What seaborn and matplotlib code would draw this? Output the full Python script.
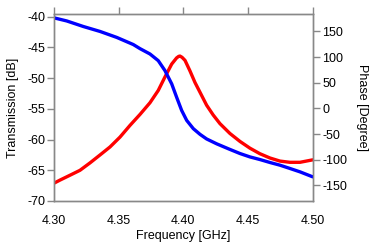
import matplotlib
matplotlib.use("Agg")
from matplotlib import pyplot as plt
import seaborn as sns
import pandas as pd

# transmission (red, left axis)
freq_t = [4.3000, 4.3046, 4.3124, 4.3201, 4.3278, 4.3356, 4.3433, 4.3510, 4.3587,
          4.3665, 4.3742, 4.3806, 4.3858, 4.3910, 4.3948, 4.3964, 4.3974, 4.3990,
          4.4013, 4.4051, 4.4090, 4.4129, 4.4180, 4.4231, 4.4283, 4.4360, 4.4438,
          4.4515, 4.4592, 4.4670, 4.4747, 4.4824, 4.4902, 4.5000]
trans_db = [-67.1, -66.6, -65.8, -65.0, -63.8, -62.5, -61.2, -59.6, -57.7,
            -55.9, -54.0, -52.0, -49.8, -47.7, -46.7, -46.45, -46.4, -46.6,
            -47.1, -48.8, -50.7, -52.3, -54.4, -56.0, -57.4, -59.0, -60.3,
            -61.4, -62.3, -63.0, -63.5, -63.7, -63.7, -63.3]

# phase (blue, right axis)
freq_p = [4.3000, 4.3098, 4.3226, 4.3356, 4.3485, 4.3613, 4.3665, 4.3742, 4.3806,
          4.3858, 4.3910, 4.3948, 4.3987, 4.4026, 4.4077, 4.4129, 4.4180, 4.4258,
          4.4347, 4.4438, 4.4515, 4.4592, 4.4670, 4.4747, 4.4824, 4.4902, 4.5000]
phase_deg = [176.5, 170.5, 159.7, 150.0, 138.4, 124.5, 116.5, 106.1, 93.1,
             73.7, 47.9, 21.9, -3.9, -23.3, -39.4, -50.5, -59.5, -69.0,
             -78.5, -87.9, -94.5, -99.6, -105.4, -110.6, -117.0, -123.6, -133.3]

df_t = pd.DataFrame({"freq": freq_t, "trans": trans_db})
df_p = pd.DataFrame({"freq": freq_p, "phase": phase_deg})

sns.set_style("white")
plt.rcParams['font.family'] = ['Liberation Sans', 'DejaVu Sans']
plt.rcParams['font.size'] = 9
plt.rcParams['axes.unicode_minus'] = False
plt.rcParams['text.color'] = 'black'
plt.rcParams['axes.labelcolor'] = 'black'
plt.rcParams['xtick.color'] = 'black'
plt.rcParams['ytick.color'] = 'black'

fig = plt.figure(figsize=(3.74, 2.43), dpi=100)
ax = fig.add_axes([0.1444, 0.1716, 0.6916, 0.7695])
ax2 = ax.twinx()

sns.lineplot(data=df_t, x="freq", y="trans", ax=ax, color="#ff0000", lw=2.4)
sns.lineplot(data=df_p, x="freq", y="phase", ax=ax2, color="#0000ff", lw=2.4)

ax.set_xlim(4.30, 4.50)
ax.set_ylim(-70.05, -39.6)
ax2.set_ylim(-181, 183.4)
ax.set_xticks([4.30, 4.35, 4.40, 4.45, 4.50])
ax.set_xticklabels(["4.30", "4.35", "4.40", "4.45", "4.50"])
ax.set_yticks([-70, -65, -60, -55, -50, -45, -40])
ax2.set_yticks([-150, -100, -50, 0, 50, 100, 150])

gray = "#888888"
for a in (ax, ax2):
    for s in a.spines.values():
        s.set_color(gray)
        s.set_linewidth(1)
ax.tick_params(axis="both", direction="out", length=5, width=1, color=gray,
               labelcolor="black", labelsize=9, pad=1, top=True, labeltop=False)
ax.tick_params(axis="x", pad=5)
ax2.tick_params(axis="y", direction="out", length=5, width=1, color=gray,
                labelcolor="black", labelsize=9, pad=2, right=True)

ax.set_xlabel("Frequency [GHz]", fontsize=9, labelpad=2, color="black")
ax.set_ylabel("Transmission [dB]", fontsize=9, labelpad=6, color="black")
ax2.set_ylabel("Phase [Degree]", fontsize=9, rotation=270, labelpad=15, color="black")

fig.savefig("out.png", dpi=100)
